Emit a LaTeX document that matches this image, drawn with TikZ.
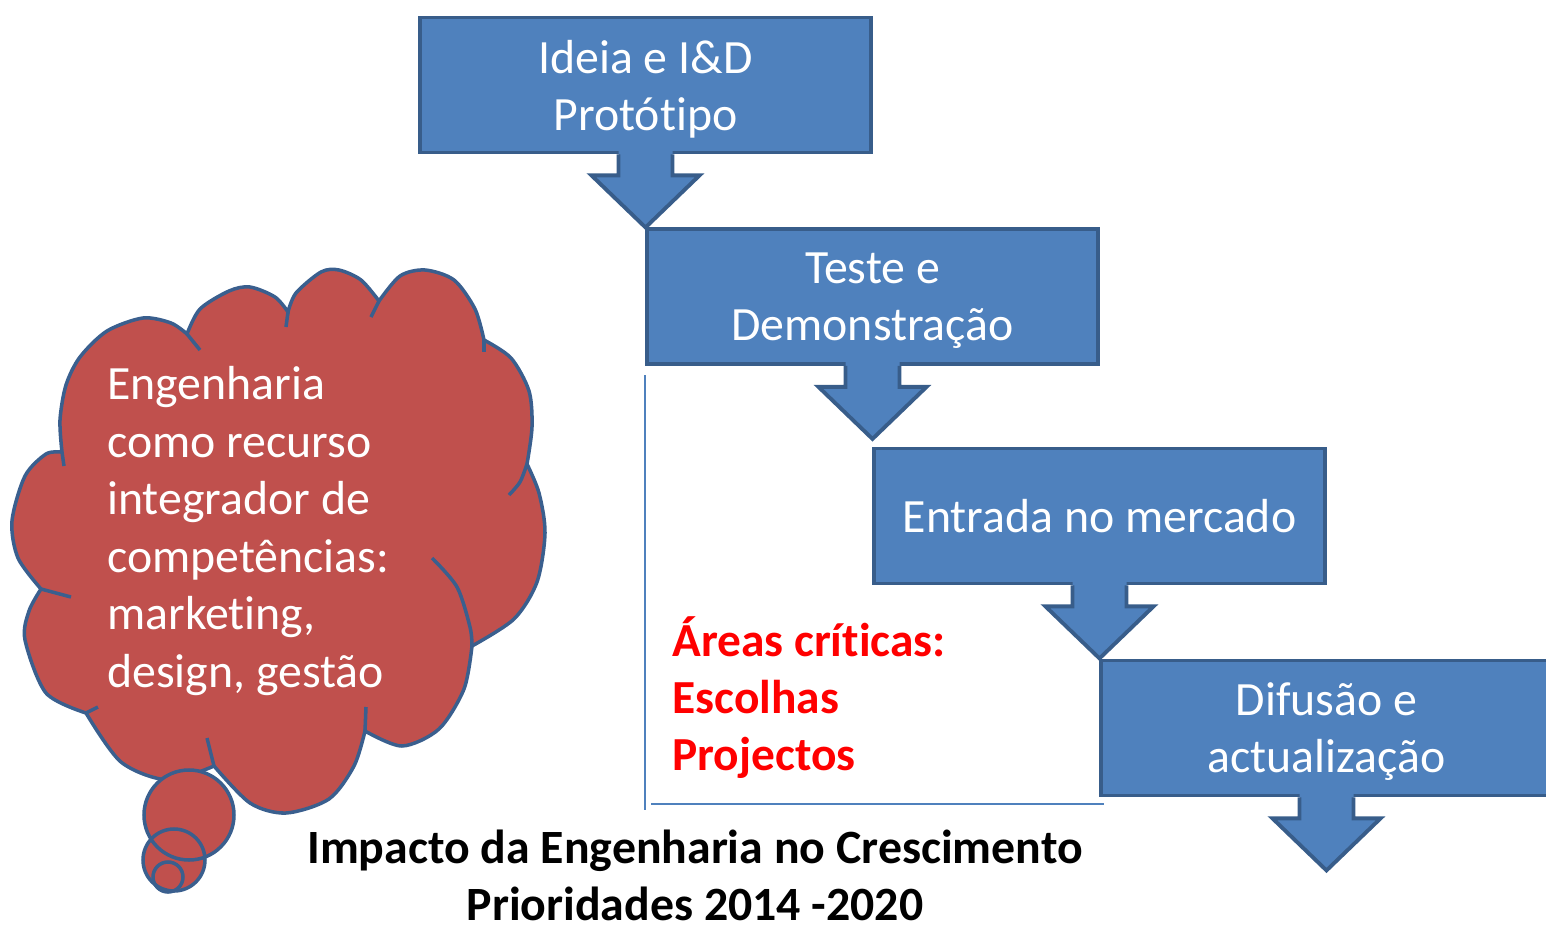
\documentclass[tikz,border=0pt]{standalone}
\usepackage{fontspec}
\setmainfont{Carlito}[Ligatures=NoCommon]
\usetikzlibrary{calc}
\definecolor{boxfill}{HTML}{4F81BD}
\definecolor{boxline}{HTML}{385D8A}
\definecolor{cloudfill}{HTML}{C0504D}
\definecolor{cloudline}{HTML}{3A5F8E}
\definecolor{critred}{HTML}{FF0000}
\begin{document}
\begin{tikzpicture}[x=0.02cm,y=-0.02cm,
  stagebox/.style={draw=boxline, fill=boxfill, line width=2.2pt, minimum width=9.02cm, minimum height=2.7cm, inner sep=0pt, text depth=0pt, text=white, align=center, font=\fontsize{27.2}{32.4}\selectfont},
  arrowfill/.style={fill=boxfill},
  arrowline/.style={draw=boxline, line width=2.2pt},
  cloudstyle/.style={fill=cloudfill, draw=cloudline, line width=2pt},
  cloudtick/.style={draw=cloudline, line width=2pt},
  cloudtext/.style={text=white, align=left, inner sep=0pt, font=\fontsize{27.2}{32.7}\selectfont},
  redtext/.style={text=critred, align=left, inner sep=0pt, font=\bfseries\fontsize{27}{32.4}\selectfont},
  titletext/.style={text=black, align=center, inner sep=0pt, text depth=0pt, font=\bfseries\fontsize{27.2}{32.4}\selectfont},
  thinline/.style={draw=boxfill, line width=1pt}]
\useasboundingbox (0,0) rectangle (1546,930);
\clip (0,0) rectangle (1546,930);

% cloud
\path[cloudstyle]
  plot[smooth] coordinates {(62,452) (60,420) (66,385) (80,357) (107,331) (143,318) (171,323) (187,334)}
  -- plot[smooth] coordinates {(187,334) (200,309) (229,291) (250,287) (275,297) (288,312)}
  -- plot[smooth] coordinates {(288,312) (296,293) (321,272) (339,270) (361,280) (379,301)}
  -- plot[smooth] coordinates {(379,301) (400,276) (425,270) (454,280) (475,309) (484,340)}
  -- plot[smooth] coordinates {(484,340) (511,358) (529,391) (532,427) (527,464)}
  -- plot[smooth] coordinates {(527,464) (539,493) (545,533) (537,582) (514,619) (472,646)}
  -- plot[smooth] coordinates {(472,646) (464,689) (439,729) (402,746) (365,731)}
  -- plot[smooth] coordinates {(365,731) (354,766) (329,799) (286,813) (250,803) (214,766)}
  -- plot[smooth] coordinates {(214,766) (168,780) (121,762) (86,713)}
  -- plot[smooth] coordinates {(86,713) (46,693) (25,640) (29,611) (41,589)}
  -- plot[smooth] coordinates {(41,589) (18,558) (12,521) (25,476) (46,454) (62,452)}
  -- cycle;
\draw[cloudtick] (62,452) -- (64,466);
\draw[cloudtick] (187,334) -- (200,350);
\draw[cloudtick] (288,312) -- (286,327);
\draw[cloudtick] (379,301) -- (371,317);
\draw[cloudtick] (484,340) -- (484,352);
\draw[cloudtick] plot[smooth] coordinates {(527,464) (520,482) (509,495)};
\draw[cloudtick] plot[smooth] coordinates {(472,646) (470,627) (457,587) (432,558)};
\draw[cloudtick] (365,731) -- (366,707);
\draw[cloudtick] (214,766) -- (207,738);
\draw[cloudtick] (86,713) -- (98,707);
\draw[cloudtick] (41,589) -- (71,597);

% thought bubbles
\fill[cloudfill] (189,815) circle[radius=45];
\fill[cloudfill] (174,860) circle[radius=31];
\fill[cloudfill] (168,877) circle[radius=15];
\draw[cloudtick] (189,815) circle[radius=45];
\draw[cloudtick] (174,860) circle[radius=31];
\draw[cloudtick] (168,877) circle[radius=15];

\node[cloudtext, anchor=base west] (cloudtxt) at (107,687) {Engenharia\\como recurso\\integrador de\\competências:\\marketing,\\design, gestão};

% thin frame lines
\draw[thinline] (645,375) -- (645,810);
\draw[thinline] (651,804) -- (1104,804);

% stages
\node[stagebox] (b1) at (645.5,85) {Ideia e I\&D\\Protótipo};
\node[stagebox] (b2) at (872.5,296.5) {Teste e\\Demonstração};
\node[stagebox] (b3) at (1099.5,516) {Entrada no mercado};
\node[stagebox] (b4) at (1326.5,728) {Difusão e\\actualização};

\foreach \b in {b1,b2,b3,b4}{
  \fill[arrowfill] ($(\b.south)+(-27,-4)$) -- ++(0,25) -- ++(-27,0) -- ++(54,52) -- ++(54,-52) -- ++(-27,0) -- ++(0,-25) -- cycle;
  \draw[arrowline] ($(\b.south)+(-27,0)$) -- ++(0,21) -- ++(-27,0) -- ++(54,52) -- ++(54,-52) -- ++(-27,0) -- ++(0,-21);
}

\node[redtext, anchor=base west] (crit) at (672,770) {Áreas críticas:\\Escolhas\\Projectos};

\node[titletext, anchor=base] (title) at (695,920) {Impacto da Engenharia no Crescimento\\Prioridades 2014 -2020};
\end{tikzpicture}
\end{document}
